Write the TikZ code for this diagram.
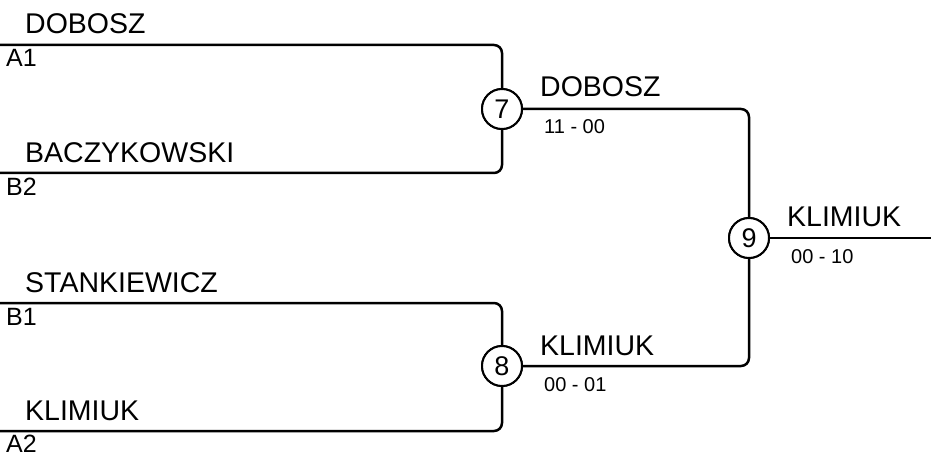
\documentclass[tikz,border=0pt]{standalone}
\usepackage{fontspec}
\setmainfont{Liberation Sans}
\begin{document}
\begin{tikzpicture}[x=1pt,y=-1pt,
  conn/.style={line width=2.5pt,rounded corners=8pt},
  game/.style={circle,draw,line width=2pt,minimum size=40pt,inner sep=0pt,fill=white,font=\fontsize{27}{29}\selectfont},
  pname/.style={anchor=base west,inner sep=0pt,font=\fontsize{28.5}{30}\selectfont},
  seed/.style={anchor=base west,inner sep=0pt,font=\fontsize{25}{27}\selectfont},
  score/.style={anchor=base west,inner sep=0pt,font=\fontsize{20}{22}\selectfont}]
\useasboundingbox (0,0) rectangle (931,457);
% game nodes
\node[game] (m7) at (502,109) {7};
\node[game] (m8) at (502,366) {8};
\node[game] (m9) at (749,238) {9};
% line starts
\coordinate (a1) at (0,45);
\coordinate (b2) at (0,173);
\coordinate (b1) at (0,303);
\coordinate (a2) at (0,431);
\coordinate (fin) at (931,238);
% connectors
\draw[conn] (a1) -| (m7.north);
\draw[conn] (b2) -| (m7.south);
\draw[conn] (b1) -| (m8.north);
\draw[conn] (a2) -| (m8.south);
\draw[conn] (m7.east) -| (m9.north);
\draw[conn] (m8.east) -| (m9.south);
\draw[conn] (m9.east) -- (fin);
% redraw game nodes on top
\node[game] at (m7) {7};
\node[game] at (m8) {8};
\node[game] at (m9) {9};
% names
\node[pname] (n1) at (25,34) {DOBOSZ};
\node[seed] (s1) at (6,67) {A1};
\node[pname] (n2) at (25,163) {BACZYKOWSKI};
\node[seed] (s2) at (6,196) {B2};
\node[pname] (n3) at (25,292) {STANKIEWICZ};
\node[seed] (s3) at (6,325) {B1};
\node[pname] (n4) at (25,420) {KLIMIUK};
\node[seed] (s4) at (6,452) {A2};
% winners
\node[pname] (w7) at (540,97) {DOBOSZ};
\node[score] (sc7) at (544,134) {11 - 00};
\node[pname] (w8) at (540,355) {KLIMIUK};
\node[score] (sc8) at (544,391) {00 - 01};
\node[pname] (w9) at (787,226) {KLIMIUK};
\node[score] (sc9) at (791,263) {00 - 10};
\end{tikzpicture}
\end{document}
